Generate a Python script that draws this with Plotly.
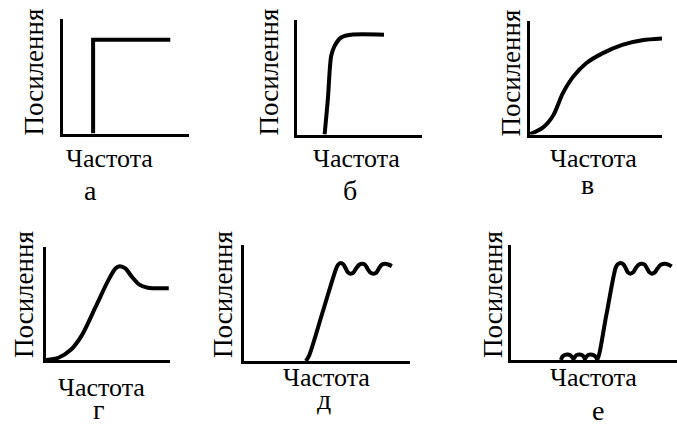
import plotly.graph_objects as go

W, H = 677, 426

# Gain vs. frequency for six filter response shapes (arbitrary units, 0..10)
freq_a = [2.42, 2.42, 8.52]
gain_a = [0.0, 8.19, 8.19]

freq_b = [2.24, 2.5, 2.76, 3.02, 3.55, 4.34, 6.97]
gain_b = [0.0, 3.1, 6.84, 7.7, 8.47, 8.71, 8.71]

freq_v = [0.0, 1.0, 1.8, 2.5, 3.3, 4.3, 5.5, 7.0, 8.5, 10.0]
gain_v = [0.0, 0.6, 1.7, 3.6, 5.1, 6.3, 7.15, 7.9, 8.3, 8.45]

freq_g = [0.0, 1.0, 2.0, 2.9, 4.0, 5.0, 5.6, 5.95, 6.4, 6.9, 7.5, 8.2, 9.9]
gain_g = [0.0, 0.2, 0.9, 2.2, 4.7, 7.0, 8.1, 8.3, 8.1, 7.4, 6.7, 6.4, 6.35]

freq_d = [3.75, 3.95, 4.75, 5.54, 5.68, 5.83, 6.00, 6.15, 6.28, 6.43, 6.60, 6.75,
          6.95, 7.13, 7.30, 7.45, 7.62, 7.82, 7.98, 8.12, 8.30, 8.51, 8.70, 8.91]
gain_d = [0.0, 0.5, 4.2, 7.87, 8.30, 8.44, 8.32, 7.95, 7.62, 7.53, 7.62, 7.95,
          8.30, 8.38, 8.30, 7.95, 7.62, 7.53, 7.62, 7.95, 8.30, 8.38, 8.32, 8.18]

freq_e = [3.01, 3.10, 3.25, 3.41, 3.57, 3.70, 3.76, 3.84, 3.96, 4.11, 4.27, 4.40,
          4.45, 4.52, 4.65, 4.81, 4.97, 5.12, 5.21, 5.75, 6.30, 6.42, 6.60, 6.78,
          6.92, 7.04, 7.19, 7.36, 7.50, 7.68, 7.89, 8.06, 8.20, 8.34, 8.49, 8.66,
          8.82, 9.02, 9.28, 9.48, 9.68]
gain_e = [0.0, 0.30, 0.45, 0.47, 0.42, 0.22, 0.10, 0.25, 0.43, 0.47, 0.43, 0.25,
          0.10, 0.25, 0.43, 0.47, 0.42, 0.25, 0.05, 3.96, 8.0, 8.30, 8.43, 8.30,
          7.95, 7.62, 7.51, 7.62, 7.95, 8.28, 8.37, 8.28, 7.95, 7.62, 7.51, 7.62,
          7.95, 8.28, 8.37, 8.30, 8.14]

panel_letters = ["а", "б", "в", "г", "д", "е"]
x_title = "Частота"
y_title = "Посилення"

series = [
    (freq_a, gain_a, "linear"),
    (freq_b, gain_b, "spline"),
    (freq_v, gain_v, "spline"),
    (freq_g, gain_g, "spline"),
    (freq_d, gain_d, "spline"),
    (freq_e, gain_e, "spline"),
]

# axis frame of each panel in pixels: left, right, top, bottom (axis line centres)
frames = [
    (61, 189, 19, 135),
    (295, 422, 20, 136),
    (528, 662, 21, 136),
    (44.5, 170, 247, 361.5),
    (242, 410, 245, 362.5),
    (509.5, 677, 245, 361.5),
]

# label placements in pixels: (y-title centre), (x-title centre), (letter centre)
label_pos = [
    ((34, 72.5), (109, 158.5), (90, 190)),
    ((269, 72.5), (356, 158), (350, 190)),
    ((511, 72.5), (593, 158), (587, 184)),
    ((24, 295), (101, 387), (99, 409)),
    ((223, 295), (326, 377), (324, 399)),
    ((493, 295), (593, 377), (598, 410)),
]

FONT = "Times New Roman"
INK = "black"
LW_AXIS = 3

fig = go.Figure()
layout = dict(
    width=W, height=H, margin=dict(l=0, r=0, t=0, b=0),
    paper_bgcolor="white", plot_bgcolor="white", showlegend=False,
)
annotations = []

for i, ((fx, gy, shape), (l, r, t, b)) in enumerate(zip(series, frames)):
    n = "" if i == 0 else str(i + 1)
    fig.add_trace(go.Scatter(
        x=fx, y=gy, mode="lines", xaxis="x" + n, yaxis="y" + n,
        line=dict(color=INK, width=4, shape=shape, smoothing=0.8),
        hoverinfo="skip",
    ))
    common = dict(showgrid=False, zeroline=False, showticklabels=False,
                  ticks="", showline=True, linecolor=INK, linewidth=LW_AXIS,
                  mirror=False, fixedrange=True)
    layout["xaxis" + n] = dict(
        domain=[(l + LW_AXIS / 2) / W, min(r / W, 1.0)], range=[0, 10],
        anchor="y" + n, **common)
    layout["yaxis" + n] = dict(
        domain=[1 - (b - LW_AXIS / 2) / H, 1 - t / H], range=[0, 10],
        anchor="x" + n, **common)

    (yx, yy), (xx, xy), (lx, ly) = label_pos[i]
    annotations.append(dict(
        text=y_title, x=yx / W, y=1 - yy / H, xref="paper", yref="paper",
        showarrow=False, textangle=-90, xanchor="center", yanchor="middle",
        font=dict(family=FONT, size=27, color=INK)))
    annotations.append(dict(
        text=x_title, x=xx / W, y=1 - xy / H, xref="paper", yref="paper",
        showarrow=False, xanchor="center", yanchor="middle",
        font=dict(family=FONT, size=26, color=INK)))
    annotations.append(dict(
        text=panel_letters[i], x=lx / W, y=1 - ly / H, xref="paper", yref="paper",
        showarrow=False, xanchor="center", yanchor="middle",
        font=dict(family=FONT, size=28, color=INK)))

fig.update_layout(annotations=annotations, **layout)
fig.write_html("out.html")
